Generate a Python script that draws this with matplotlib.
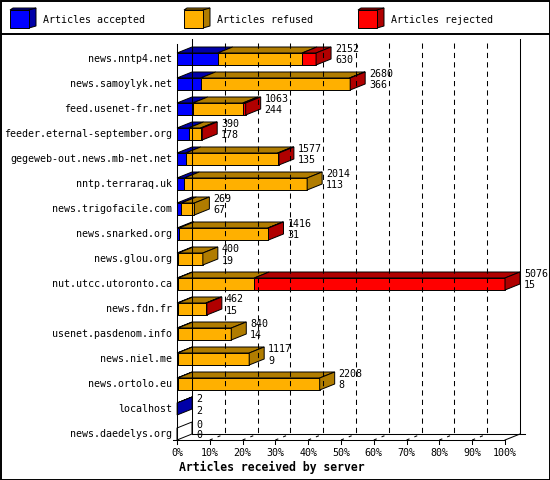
import matplotlib
matplotlib.use('Agg')
import matplotlib.pyplot as plt
from matplotlib.patches import Polygon, Rectangle

# data
servers = ['news.nntp4.net', 'news.samoylyk.net', 'feed.usenet-fr.net',
           'feeder.eternal-september.org', 'gegeweb-out.news.mb-net.net',
           'nntp.terraraq.uk', 'news.trigofacile.com', 'news.snarked.org',
           'news.glou.org', 'nut.utcc.utoronto.ca', 'news.fdn.fr',
           'usenet.pasdenom.info', 'news.niel.me', 'news.ortolo.eu',
           'localhost', 'news.daedelys.org']
totals   = [2152, 2680, 1063, 390, 1577, 2014, 269, 1416, 400, 5076, 462, 840, 1117, 2208, 2, 0]
accepted = [630, 366, 244, 178, 135, 113, 67, 31, 19, 15, 15, 14, 9, 8, 2, 0]
rejected = [217, 10, 45, 25, 20, 0, 0, 10, 0, 3881, 15, 0, 0, 0, 0, 0]
refused  = [t - a - r for t, a, r in zip(totals, accepted, rejected)]
xticks = [0, 10, 20, 30, 40, 50, 60, 70, 80, 90, 100]

series = ['Articles accepted', 'Articles refused', 'Articles rejected']
front_cols = ['#0000ff', '#ffb000', '#ff0000']
dark_cols = ['#0000a8', '#b07c00', '#b00000']

W, H = 550, 480
fig = plt.figure(figsize=(W / 100, H / 100), dpi=100)

# overlay in pixel coordinates for frame and legend
bg = fig.add_axes([0, 0, 1, 1])
bg.set_xlim(0, W)
bg.set_ylim(H, 0)
bg.axis('off')
bg.add_patch(Rectangle((0.5, 0.5), W - 1, H - 1, fill=False, ec='black', lw=1.4))
bg.plot([0, W], [34, 34], color='black', lw=1.4)

mono = 'DejaVu Sans Mono'
fs = 7.2
for k, (lab, fc, dc) in enumerate(zip(series, front_cols, dark_cols)):
    x0 = 10 + 174 * k
    bg.add_patch(Polygon([(x0, 10), (x0 + 3, 8), (x0 + 26, 8), (x0 + 23, 10)],
                         closed=True, fc=dc, ec='black', lw=0.7))
    bg.add_patch(Polygon([(x0 + 19, 10), (x0 + 26, 8), (x0 + 26, 26), (x0 + 19, 28)],
                         closed=True, fc=dc, ec='black', lw=0.7))
    bg.add_patch(Rectangle((x0, 10), 19, 18, fc=fc, ec='black', lw=0.7))
    bg.text(x0 + 33, 20, lab, fontsize=fs, family=mono, va='center', ha='left')

# chart axes: front plane, x in percent of the largest total, y = row index
ax = fig.add_axes([177 / W, 40 / H, 328 / W, 400 / H])
ax.axis('off')
ymax = 15.24
ax.set_xlim(0, 100)
ax.set_ylim(ymax, ymax - 16)

px = 100 / 328          # one pixel in x data units
py = 1 / 25             # one pixel in y data units
DX, DY = 15 * px, 6 * py
h = 6 * py
top_back = ymax - 401 * py
floor_back = ymax - DY

# back wall and floor
lw = 0.75
ax.plot([DX, DX], [top_back, floor_back], color='black', lw=lw, clip_on=False)
ax.plot([100 + DX, 100 + DX], [top_back, floor_back], color='black', lw=lw, clip_on=False)
ax.plot([0, 0], [ymax - 396 * py, ymax + 4 * py], color='black', lw=lw, clip_on=False)
ax.plot([DX, 100 + DX + 5 * px], [floor_back, floor_back], color='black', lw=lw, clip_on=False)
ax.plot([-4 * px, 100], [ymax, ymax], color='black', lw=lw, clip_on=False)
ax.plot([100, 100 + DX], [ymax, floor_back], color='black', lw=lw, clip_on=False)
for t in xticks[1:-1]:
    ax.plot([t + DX, t + DX], [top_back + 4 * py, floor_back], color='black', lw=lw,
            ls=(0, (5, 4)), clip_on=False)
    ax.plot([t, t + DX], [ymax, floor_back], color='black', lw=lw,
            ls=(0, (3, 5)), clip_on=False)
for t in xticks:
    ax.plot([t, t], [ymax, ymax + 4 * py], color='black', lw=lw, clip_on=False)
    ax.text(t, ymax + 13 * py, f'{t}%', fontsize=fs, family=mono, ha='center', va='center')

ax.text(2 * px, ymax + 27 * py, 'Articles received by server', fontsize=8.3,
        family=mono, weight='bold', ha='left', va='center')

scale = 100 / max(totals)
for i, name in enumerate(servers):
    ax.text(-5 * px, i, name, fontsize=fs, family=mono, ha='right', va='center')
    vals = [accepted[i], refused[i], rejected[i]]
    left = 0
    last = None
    for k, v in enumerate(vals):
        if v <= 0:
            continue
        x0, x1 = left * scale, (left + v) * scale
        ax.add_patch(Polygon([(x0, i - h), (x0 + DX, i - h - DY), (x1 + DX, i - h - DY), (x1, i - h)],
                             closed=True, fc=dark_cols[k], ec='black', lw=0.7, clip_on=False))
        ax.add_patch(Rectangle((x0, i - h), x1 - x0, 2 * h, fc=front_cols[k],
                               ec='black', lw=0.7, clip_on=False))
        left += v
        last = k
    xe = totals[i] * scale
    side_col = dark_cols[last] if last is not None else 'white'
    ax.add_patch(Polygon([(xe, i - h), (xe + DX, i - h - DY), (xe + DX, i + h - DY), (xe, i + h)],
                         closed=True, fc=side_col, ec='black', lw=0.7, clip_on=False))
    ax.text(xe + DX + 4 * px, i - 9.5 * py, str(totals[i]), fontsize=fs, family=mono,
            ha='left', va='center')
    ax.text(xe + DX + 4 * px, i + 1.5 * py, str(accepted[i]), fontsize=fs, family=mono,
            ha='left', va='center')

fig.savefig('out.png', dpi=100)
